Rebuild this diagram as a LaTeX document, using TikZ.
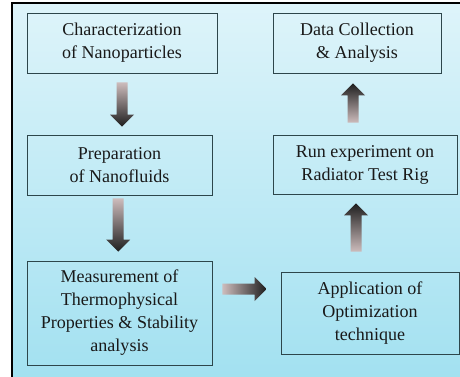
\documentclass[tikz,border=0pt]{standalone}
\usepackage{fontspec}
\setmainfont{Liberation Serif}
\newfontfamily\boxfont{Liberation Serif}
\usetikzlibrary{calc}

\definecolor{bgtop}{RGB}{222,244,250}
\definecolor{bgbottom}{RGB}{160,224,240}
\definecolor{boxline}{RGB}{45,70,75}
\definecolor{arrowtail}{RGB}{205,188,188}
\definecolor{arrowhead}{RGB}{30,30,30}

% fat shaded arrow from #1 to #2
\newcommand{\flowarrow}[2]{%
  \coordinate (fan) at ($(#2)!0.36cm!(#1)$);
  \pgfpointdiff{\pgfpointanchor{#1}{center}}{\pgfpointanchor{#2}{center}}%
  \pgfgetlastxy{\fadx}{\fady}%
  \pgfmathsetmacro{\faang}{atan2(\fady,\fadx)+90}%
  \shade[fatarrow, shading angle=\faang]
    ($(#1)!0.165cm!90:(#2)$) -- ($(fan)!0.165cm!90:(#2)$) -- ($(fan)!0.36cm!90:(#2)$)
    -- (#2) -- ($(fan)!0.36cm!-90:(#2)$) -- ($(fan)!0.165cm!-90:(#2)$)
    -- ($(#1)!0.165cm!-90:(#2)$) -- cycle;}

\begin{document}
\begin{tikzpicture}[
  box/.style={rectangle, draw=boxline, line width=0.6pt, text centered, align=center,
    text=black!90, font=\boxfont\fontsize{15.4}{19.6}\selectfont, inner sep=2pt},
  fatarrow/.style={shading=axis, top color=arrowtail, bottom color=arrowhead}
]

% Canvas and frame
\useasboundingbox (0,0) rectangle (13.8,11.28);
\clip (0,0) rectangle (13.8,11.28);
\fill[white] (0,0) rectangle (13.8,11.28);
\shade[top color=bgtop, bottom color=bgbottom] (0.36,-0.5) rectangle (14.3,11.19);
\draw[line width=2.5pt] (0.36,-0.5) rectangle (14.3,11.19);

% Left column
\node[box, minimum width=5.7cm, minimum height=1.8cm] (char) at (3.66, 9.99) {
  Characterization\\of Nanoparticles
};

\node[box, minimum width=5.55cm, minimum height=1.8cm] (prep) at (3.585, 6.33) {
  Preparation\\of Nanofluids
};

\node[box, minimum width=5.55cm, minimum height=3.12cm] (meas) at (3.585, 1.89) {
  Measurement of\\Thermophysical\\Properties \& Stability\\analysis
};

% Right column
\node[box, minimum width=5.34cm, minimum height=2.46cm] (optim) at (11.1, 1.89) {
  Application of\\Optimization\\technique
};

\node[box, minimum width=5.52cm, minimum height=1.77cm] (run) at (10.95, 6.345) {
  Run experiment on\\Radiator Test Rig
};

\node[box, minimum width=5.04cm, minimum height=1.8cm] (data) at (10.71, 9.99) {
  Data Collection\\\& Analysis
};

% Arrow ends
\coordinate (a1s) at ($(char.south)+(0,-0.27)$);
\coordinate (a1e) at ($(a1s |- prep.north)+(0,0.24)$);
\coordinate (a2s) at ($(prep.south)+(-0.04,-0.09)$);
\coordinate (a2e) at ($(a2s |- meas.north)+(0,0.27)$);
\coordinate (a3s) at ($(meas.east)+(0.3,0.72)$);
\coordinate (a3e) at ($(a3s -| optim.west)+(-0.42,0)$);
\coordinate (a4s) at ($(optim.north)+(-0.42,0.6)$);
\coordinate (a4e) at ($(a4s |- run.south)+(0,-0.27)$);
\coordinate (a5s) at ($(run.north)+(-0.36,0.36)$);
\coordinate (a5e) at ($(a5s |- data.south)+(0,-0.3)$);

% Arrows
\flowarrow{a1s}{a1e}
\flowarrow{a2s}{a2e}
\flowarrow{a3s}{a3e}
\flowarrow{a4s}{a4e}
\flowarrow{a5s}{a5e}

\end{tikzpicture}
\end{document}
